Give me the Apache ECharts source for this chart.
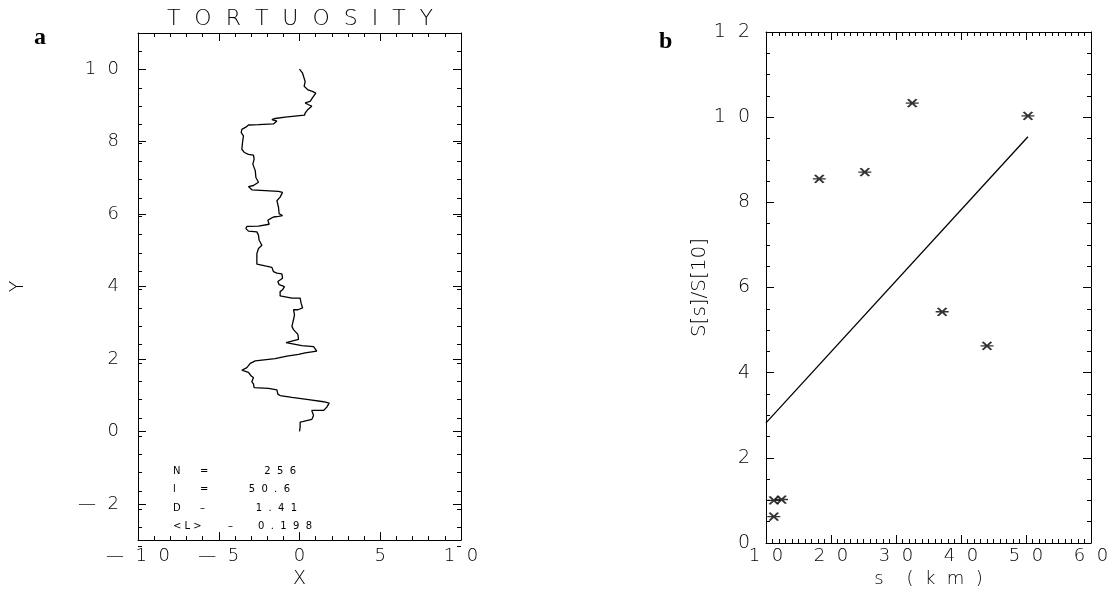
<!DOCTYPE html>
<html>
<head>
<meta charset="utf-8">
<script src="https://cdn.jsdelivr.net/npm/echarts@6/dist/echarts.min.js"></script>
<style>
  html, body { margin: 0; background: #fff; }
  #chart { width: 1115px; height: 594px; }
</style>
</head>
<body>
<div id="chart"></div>
<script>
const walkPath = [
  [0.00, 10.00], [0.19, 9.89], [0.35, 9.66], [0.29, 9.53], [0.52, 9.43], [0.80, 9.39],
  [1.01, 9.34], [0.80, 9.21], [0.66, 9.11], [0.35, 9.07], [0.56, 9.02], [0.76, 8.98],
  [0.52, 8.89], [0.35, 8.79], [0.31, 8.73], [-0.89, 8.68], [-1.51, 8.64], [-1.71, 8.61],
  [-1.40, 8.57], [-1.61, 8.49], [-2.54, 8.47], [-3.16, 8.46], [-3.32, 8.40], [-3.57, 8.34],
  [-3.61, 8.25], [-3.47, 8.16], [-3.53, 7.97], [-3.57, 7.79], [-3.41, 7.70], [-3.16, 7.65],
  [-2.85, 7.63], [-2.81, 7.52], [-2.89, 7.38], [-2.74, 7.20], [-2.70, 7.01], [-2.54, 6.88],
  [-2.58, 6.83], [-2.85, 6.79], [-3.16, 6.76], [-3.26, 6.72], [-2.95, 6.67], [-2.13, 6.65],
  [-1.30, 6.63], [-1.05, 6.60], [-1.20, 6.47], [-1.40, 6.37], [-1.30, 6.19], [-1.26, 6.01],
  [-1.05, 5.96], [-1.30, 5.94], [-1.61, 5.92], [-1.82, 5.87], [-1.96, 5.83], [-1.88, 5.72],
  [-2.54, 5.67], [-3.26, 5.66], [-3.32, 5.60], [-3.16, 5.53], [-2.64, 5.51], [-2.54, 5.42],
  [-2.50, 5.28], [-2.33, 5.14], [-2.54, 5.05], [-2.64, 4.91], [-2.64, 4.62], [-2.13, 4.57],
  [-1.71, 4.53], [-1.61, 4.41], [-1.40, 4.37], [-1.09, 4.35], [-1.05, 4.23], [-1.34, 4.14],
  [-1.26, 4.05], [-0.93, 4.00], [-1.05, 3.91], [-1.20, 3.86], [-1.20, 3.74], [-0.47, 3.68],
  [0.04, 3.68], [0.10, 3.54], [0.19, 3.41], [-0.10, 3.36], [-0.37, 3.36], [-0.31, 3.22],
  [-0.37, 3.09], [-0.47, 2.90], [-0.37, 2.81], [-0.10, 2.68], [-0.06, 2.54], [-0.83, 2.45],
  [0.14, 2.37], [0.87, 2.34], [1.07, 2.22], [0.35, 2.17], [-0.06, 2.13], [-0.78, 2.08],
  [-1.51, 2.01], [-2.74, 1.95], [-3.05, 1.88], [-3.26, 1.76], [-3.57, 1.69], [-3.16, 1.63],
  [-2.99, 1.53], [-2.85, 1.49], [-2.95, 1.37], [-2.85, 1.31], [-2.81, 1.21], [-1.92, 1.19],
  [-1.40, 1.15], [-1.34, 1.03], [-1.20, 0.99], [-0.47, 0.94], [0.56, 0.88], [1.49, 0.82],
  [1.84, 0.78], [1.69, 0.67], [1.49, 0.58], [0.76, 0.58], [0.66, 0.53], [0.87, 0.44],
  [0.76, 0.33], [0.19, 0.27], [0.04, 0.26], [0.04, 0.12], [0.00, 0.00]
];
const yTicksA = [-2, 0, 2, 4, 6, 8, 10];
const statNames = ['N', 'l', 'D', '<L>'];
const statSigns = ['=', '=', '–', '–'];
const statValues = ['256', '50.6', '1.41', '0.198'];

// panel b: structure function ratio against scale
const scaleKm = [11.2, 12.4, 11.2, 18.2, 25.2, 32.5, 37.1, 44.0, 50.3];
const ratio = [1.00, 1.02, 0.62, 8.55, 8.71, 10.33, 5.43, 4.63, 10.03];
const fitKm = [10, 50.3];
const fitRatio = [2.82, 9.54];

const chart = echarts.init(document.getElementById('chart'));

// old plotter look: thin digits with wide gaps
const spaced = gap => v => String(v).replace('-', '—').split('').join(gap);
const thin = { color: '#000', fontFamily: 'DejaVu Sans', fontWeight: 200 };
const black = { color: '#000', width: 1 };

function frameAxis(o) {
  return Object.assign({
    type: 'value',
    axisLine: { show: true, onZero: false, lineStyle: black },
    axisTick: { show: true, inside: true, length: 8, lineStyle: black },
    minorTick: { show: false },
    axisLabel: { show: false },
    splitLine: { show: false }
  }, o);
}

const asterisk = 'path://M0,4L12,4M2,0L10,8M10,0L2,8';

const option = {
  animation: false,
  backgroundColor: '#fff',
  grid: [
    { left: 138, top: 33, width: 323, height: 513 },
    { left: 138, top: 33, width: 323, height: 513 },
    { left: 766, top: 32, width: 325, height: 511 }
  ],
  xAxis: [
    frameAxis({
      gridIndex: 0, position: 'bottom', min: -10, max: 10, interval: 5,
      minorTick: { show: true, splitNumber: 5, length: 4, lineStyle: black },
      axisLabel: Object.assign({ show: true, fontSize: 18, margin: 7, formatter: spaced('  ') }, thin),
      name: 'X', nameLocation: 'middle', nameGap: 25,
      nameTextStyle: Object.assign({ fontSize: 19 }, thin)
    }),
    frameAxis({
      gridIndex: 0, position: 'top', min: -10, max: 10, interval: 5,
      minorTick: { show: true, splitNumber: 5, length: 4, lineStyle: black }
    }),
    frameAxis({ gridIndex: 1, position: 'bottom', min: -10, max: 10, show: false }),
    frameAxis({ gridIndex: 1, position: 'top', min: -10, max: 10, show: false }),
    frameAxis({
      gridIndex: 2, position: 'bottom', min: 10, max: 60, interval: 10,
      minorTick: { show: true, splitNumber: 10, length: 4, lineStyle: black },
      axisLabel: Object.assign({ show: true, fontSize: 18, margin: 4, formatter: spaced('  ') }, thin),
      name: 's    (  k  m  )', nameLocation: 'middle', nameGap: 21,
      nameTextStyle: Object.assign({ fontSize: 18 }, thin)
    }),
    frameAxis({
      gridIndex: 2, position: 'top', min: 10, max: 60, interval: 10,
      minorTick: { show: true, splitNumber: 10, length: 4, lineStyle: black }
    })
  ],
  yAxis: [
    frameAxis({
      gridIndex: 0, position: 'left', min: -3, max: 11, interval: 1,
      axisTick: { show: true, inside: true, length: 8, lineStyle: black, customValues: yTicksA },
      axisLabel: Object.assign({ show: true, fontSize: 18, margin: 19, formatter: spaced('  '), customValues: yTicksA }, thin),
      name: 'Y', nameLocation: 'middle', nameGap: 110, nameRotate: 90,
      nameTextStyle: Object.assign({ fontSize: 19 }, thin)
    }),
    frameAxis({
      gridIndex: 0, position: 'right', min: -3, max: 11, interval: 1,
      axisTick: { show: true, inside: true, length: 8, lineStyle: black, customValues: yTicksA }
    }),
    // short ticks every half unit, drawn by a second axis pair over the same box
    frameAxis({
      gridIndex: 1, position: 'left', min: -3, max: 11, interval: 0.5,
      axisLine: { show: false, onZero: false },
      axisTick: { show: true, inside: true, length: 4, lineStyle: black }
    }),
    frameAxis({
      gridIndex: 1, position: 'right', min: -3, max: 11, interval: 0.5,
      axisLine: { show: false, onZero: false },
      axisTick: { show: true, inside: true, length: 4, lineStyle: black }
    }),
    frameAxis({
      gridIndex: 2, position: 'left', min: 0, max: 12, interval: 2,
      minorTick: { show: true, splitNumber: 4, length: 4, lineStyle: black },
      axisLabel: Object.assign({ show: true, fontSize: 19, margin: 16, formatter: spaced('  ') }, thin),
      name: 'S[s]/S[10]', nameLocation: 'middle', nameGap: 52, nameRotate: 90,
      nameTextStyle: Object.assign({ fontSize: 20 }, thin)
    }),
    frameAxis({
      gridIndex: 2, position: 'right', min: 0, max: 12, interval: 2,
      minorTick: { show: true, splitNumber: 4, length: 4, lineStyle: black }
    })
  ],
  series: [
    {
      type: 'line', xAxisIndex: 0, yAxisIndex: 0,
      data: walkPath, showSymbol: false, silent: true,
      lineStyle: { color: '#000', width: 1.3 }
    },
    {
      type: 'scatter', xAxisIndex: 4, yAxisIndex: 4,
      data: scaleKm.map((s, i) => [s, ratio[i]]),
      symbol: asterisk, symbolSize: [13, 8], silent: true,
      itemStyle: { color: 'none', borderColor: '#000', borderWidth: 1.8 }
    },
    {
      type: 'line', xAxisIndex: 4, yAxisIndex: 4,
      data: fitKm.map((s, i) => [s, fitRatio[i]]), showSymbol: false, silent: true,
      lineStyle: { color: '#000', width: 1.3 }
    }
  ],
  graphic: [
    { type: 'text', left: 34, top: 26, style: { text: 'a', font: 'bold 24px "Liberation Serif", serif', fill: '#000' } },
    { type: 'text', left: 659, top: 30, style: { text: 'b', font: 'bold 24px "Liberation Serif", serif', fill: '#000' } },
    {
      type: 'text', x: 300, y: 8,
      style: { text: 'TORTUOSITY'.split('').join('  '), font: '200 22px "DejaVu Sans"', fill: '#000', align: 'center' }
    }
  ]
};

// stats box in the lower left of panel a
const statSignX = [200, 200, 200, 228];
const statValueX = [296, 290, 297, 312];
statNames.forEach((n, i) => {
  const y = 466 + i * 18.5;
  const font = '10px "DejaVu Sans"';
  option.graphic.push(
    { type: 'text', x: 173, y: y, style: { text: n.split('').join(' '), font: font, fill: '#000' } },
    { type: 'text', x: statSignX[i], y: y, style: { text: statSigns[i], font: font, fill: '#000' } },
    { type: 'text', x: statValueX[i], y: y, style: { text: statValues[i].split('').join('  '), font: font, fill: '#000', align: 'right' } }
  );
});

chart.setOption(option);
</script>
</body>
</html>
